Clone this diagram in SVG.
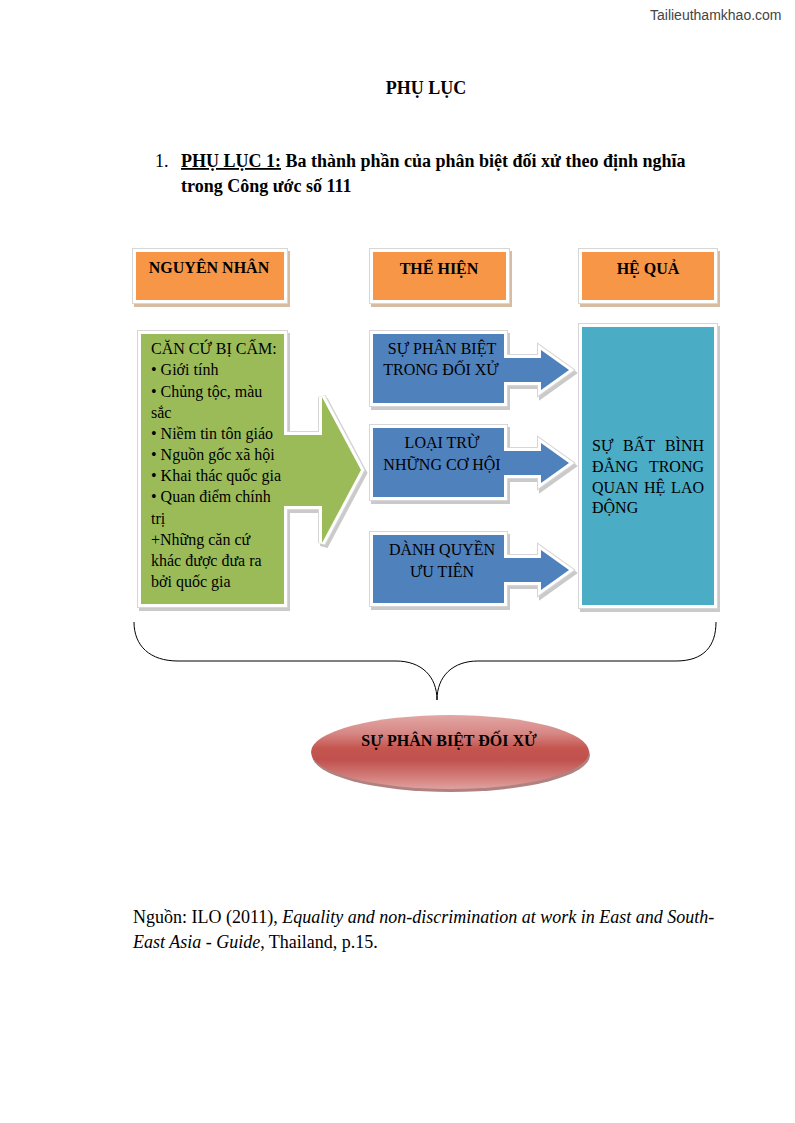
<svg xmlns="http://www.w3.org/2000/svg" width="795" height="1123" viewBox="0 0 795 1123">
<style>
.t{font-family:"Liberation Serif","Times New Roman",serif;fill:#000}
.b{font-weight:bold}
.s16{font-size:16px}
.s18{font-size:18px}
.mid{text-anchor:middle}
.end{text-anchor:end}
.wm{font-family:"Liberation Sans",Arial,sans-serif;font-size:14px;fill:#444}
.sh{fill:#a0a0a0;stroke:#a0a0a0;stroke-width:8;opacity:.55}
.shO{fill:#c8a07c;stroke:#c8a07c;stroke-width:8;opacity:.7}
.fr1{fill:none;stroke:#d6d6d6;stroke-width:8}
.fr2{fill:none;stroke:#fff;stroke-width:6}
.orange{fill:#f79646}
.blue{fill:#4f81bd}
.green{fill:#9bbb59}
.teal{fill:#4bacc6}
.brace{fill:none;stroke:#000;stroke-width:1}
</style>
<defs>
<path id="pH1" d="M136,252 H284 V300 H136 Z"/>
<path id="pH2" d="M373,252 H506 V300 H373 Z"/>
<path id="pH3" d="M582,252 H714 V300 H582 Z"/>
<path id="pG" d="M141,334 H284 V435 H322 V397 L361,470 L322,543 V506 H284 V604 H141 Z"/>
<path id="pB1" d="M373,334 H504 V358 H541 V350 L569,370 L541,390 V382 H504 V403 H373 Z"/>
<path id="pB2" d="M373,428 H504 V451 H541 V443 L569,463 L541,483 V475 H504 V497 H373 Z"/>
<path id="pB3" d="M373,535 H504 V558 H541 V550 L569,570 L541,590 V582 H504 V603 H373 Z"/>
<path id="pT" d="M582,327 H714 V605 H582 Z"/>
<linearGradient id="gRed" x1="0" y1="0" x2="0" y2="1">
<stop offset="0" stop-color="#e2a7a5"/>
<stop offset="0.25" stop-color="#d68784"/>
<stop offset="0.45" stop-color="#c4554f"/>
<stop offset="0.6" stop-color="#c0504d"/>
<stop offset="0.8" stop-color="#cf7673"/>
<stop offset="1" stop-color="#e0a19f"/>
</linearGradient>
</defs>

<rect width="795" height="1123" fill="#fff"/>
<text class="wm" x="650" y="20">Tailieuthamkhao.com</text>

<g id="title">
<text class="t b s18 mid" x="426" y="94">PHỤ LỤC</text>
<text class="t s18" x="155" y="167">1.</text>
<text class="t b s18" x="181" y="167"><tspan text-decoration="underline">PHỤ LỤC 1:</tspan> Ba thành phần của phân biệt đối xử theo định nghĩa</text>
<text class="t b s18" x="181" y="192">trong Công ước số 111</text>
</g>

<g id="connectors">
<path class="brace" d="M134,622 C134,646 150,661 178,661 L396,661 C421,661 437,676 437,700 C437,676 453,661 478,661 L676,661 C704,661 716,646 716,622"/>
</g>

<g id="hdr-nguyen-nhan">
<use href="#pH1" class="shO" transform="translate(2,3)"/>
<use href="#pH1" class="fr1"/><use href="#pH1" class="fr2"/><use href="#pH1" class="orange"/>
<text class="t b s16 mid" x="209" y="273">NGUYÊN NHÂN</text>
</g>
<g id="hdr-the-hien">
<use href="#pH2" class="shO" transform="translate(2,3)"/>
<use href="#pH2" class="fr1"/><use href="#pH2" class="fr2"/><use href="#pH2" class="orange"/>
<text class="t b s16 mid" x="439" y="274">THỂ HIỆN</text>
</g>
<g id="hdr-he-qua">
<use href="#pH3" class="shO" transform="translate(2,3)"/>
<use href="#pH3" class="fr1"/><use href="#pH3" class="fr2"/><use href="#pH3" class="orange"/>
<text class="t b s16 mid" x="648" y="274">HỆ QUẢ</text>
</g>

<g id="can-cu-bi-cam">
<use href="#pG" class="sh" transform="translate(2,3)"/>
<use href="#pG" class="fr1"/><use href="#pG" class="fr2"/><use href="#pG" class="green"/>
<text class="t s16" x="151" y="354">CĂN CỨ BỊ CẤM:</text>
<text class="t s16" x="151" y="375">• Giới tính</text>
<text class="t s16" x="151" y="397">• Chủng tộc, màu</text>
<text class="t s16" x="151" y="418">sắc</text>
<text class="t s16" x="151" y="439">• Niềm tin tôn giáo</text>
<text class="t s16" x="151" y="460">• Nguồn gốc xã hội</text>
<text class="t s16" x="151" y="481">• Khai thác quốc gia</text>
<text class="t s16" x="151" y="502">• Quan điểm chính</text>
<text class="t s16" x="151" y="524">trị</text>
<text class="t s16" x="151" y="545">+Những căn cứ</text>
<text class="t s16" x="151" y="566">khác được đưa ra</text>
<text class="t s16" x="151" y="587">bởi quốc gia</text>
</g>

<g id="phan-biet-doi-xu">
<use href="#pB1" class="sh" transform="translate(2,3)"/>
<use href="#pB1" class="fr1"/><use href="#pB1" class="fr2"/><use href="#pB1" class="blue"/>
<text class="t s16 mid" x="442" y="354">SỰ PHÂN BIỆT</text>
<text class="t s16 mid" x="441" y="375">TRONG ĐỐI XỬ</text>
</g>
<g id="loai-tru">
<use href="#pB2" class="sh" transform="translate(2,3)"/>
<use href="#pB2" class="fr1"/><use href="#pB2" class="fr2"/><use href="#pB2" class="blue"/>
<text class="t s16 mid" x="442" y="448">LOẠI TRỪ</text>
<text class="t s16 mid" x="442" y="470">NHỮNG CƠ HỘI</text>
</g>
<g id="danh-quyen">
<use href="#pB3" class="sh" transform="translate(2,3)"/>
<use href="#pB3" class="fr1"/><use href="#pB3" class="fr2"/><use href="#pB3" class="blue"/>
<text class="t s16 mid" x="442" y="555">DÀNH QUYỀN</text>
<text class="t s16 mid" x="442" y="577">ƯU TIÊN</text>
</g>

<g id="bat-binh-dang">
<use href="#pT" class="sh" transform="translate(2,3)"/>
<use href="#pT" class="fr1"/><use href="#pT" class="fr2"/><use href="#pT" class="teal"/>
<text class="t s16" x="592" y="451">SỰ</text>
<text class="t s16" x="623" y="451">BẤT</text>
<text class="t s16 end" x="704" y="451">BÌNH</text>
<text class="t s16" x="592" y="472">ĐẲNG</text>
<text class="t s16 end" x="704" y="472">TRONG</text>
<text class="t s16" x="592" y="493">QUAN</text>
<text class="t s16" x="644" y="493">HỆ</text>
<text class="t s16 end" x="704" y="493">LAO</text>
<text class="t s16" x="592" y="513">ĐỘNG</text>
</g>

<g id="su-phan-biet-doi-xu">
<ellipse cx="451" cy="755" rx="139" ry="37" fill="#7a2d2b" opacity="0.6"/>
<ellipse cx="450" cy="752" rx="139" ry="37" fill="url(#gRed)"/>
<text class="t b s16 mid" x="449" y="746">SỰ PHÂN BIỆT ĐỐI XỬ</text>
</g>

<g id="source">
<text class="t s18" x="133" y="923">Nguồn: ILO (2011), <tspan font-style="italic">Equality and non-discrimination at work in East and South-</tspan></text>
<text class="t s18" x="133" y="948"><tspan font-style="italic">East Asia - Guide</tspan>, Thailand, p.15.</text>
</g>
</svg>
